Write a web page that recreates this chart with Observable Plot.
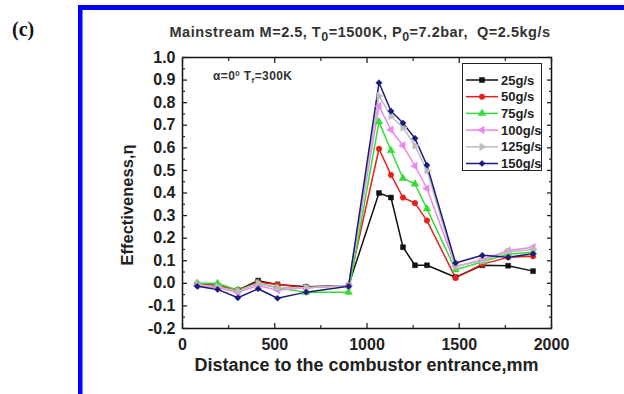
<!DOCTYPE html>
<html>
<head>
<meta charset="utf-8">
<script src="https://cdn.jsdelivr.net/npm/d3@7"></script>
<script src="https://cdn.jsdelivr.net/npm/@observablehq/plot@0.6"></script>
<style>
  html, body { margin: 0; padding: 0; background: #fff; }
  #wrap { position: relative; width: 624px; height: 394px; overflow: hidden; background: #fff; }
  #wrap svg { position: absolute; left: 0; top: 0; }
</style>
</head>
<body>
<div id="wrap"></div>
<script>
// ---- data ----
const distance = [80, 190, 300, 410, 515, 670, 900, 1065, 1130, 1195, 1260, 1325, 1480, 1625, 1765, 1900];
const seriesNames = ["25g/s", "50g/s", "75g/s", "100g/s", "125g/s", "150g/s"];
const eff25  = [-0.005, -0.01, -0.03, 0.012, -0.005, -0.015, -0.01, 0.40, 0.38, 0.16, 0.08, 0.08, 0.027, 0.08, 0.078, 0.054];
const eff50  = [-0.005, -0.01, -0.03, 0.005, -0.005, -0.02, -0.01, 0.596, 0.48, 0.38, 0.355, 0.278, 0.024, 0.085, 0.115, 0.12];
const eff75  = [0.0, 0.0, -0.03, 0.0, -0.02, -0.04, -0.04, 0.715, 0.588, 0.465, 0.44, 0.33, 0.06, 0.095, 0.13, 0.138];
const eff100 = [-0.01, -0.02, -0.04, -0.01, -0.03, -0.02, -0.01, 0.785, 0.68, 0.61, 0.52, 0.42, 0.075, 0.105, 0.145, 0.16];
const eff125 = [-0.005, -0.015, -0.035, 0.0, -0.02, -0.02, -0.01, 0.83, 0.74, 0.69, 0.61, 0.50, 0.075, 0.10, 0.14, 0.15];
const eff150 = [-0.013, -0.027, -0.064, -0.024, -0.066, -0.039, -0.013, 0.888, 0.763, 0.71, 0.642, 0.523, 0.09, 0.124, 0.116, 0.131];
const allValues = [eff25, eff50, eff75, eff100, eff125, eff150];

const yTickValues = [-0.2, -0.1, 0.0, 0.1, 0.2, 0.3, 0.4, 0.5, 0.6, 0.7, 0.8, 0.9, 1.0];
const yMinorValues = [-0.15, -0.05, 0.05, 0.15, 0.25, 0.35, 0.45, 0.55, 0.65, 0.75, 0.85, 0.95];
const xTickValues = [0, 500, 1000, 1500, 2000];
const xMinorValues = [250, 750, 1250, 1750];

const colors = ["#111111", "#e3221f", "#33dd33", "#ec86ec", "#bdbdbd", "#1b1b7c"];

// custom symbols
const triLeft = {draw(ctx, size) {
  const s = Math.sqrt(size * 4 / Math.sqrt(3)), h = s * Math.sqrt(3) / 2;
  ctx.moveTo(-2 * h / 3, 0); ctx.lineTo(h / 3, -s / 2); ctx.lineTo(h / 3, s / 2); ctx.closePath();
}};
const triRight = {draw(ctx, size) {
  const s = Math.sqrt(size * 4 / Math.sqrt(3)), h = s * Math.sqrt(3) / 2;
  ctx.moveTo(2 * h / 3, 0); ctx.lineTo(-h / 3, -s / 2); ctx.lineTo(-h / 3, s / 2); ctx.closePath();
}};
const symbolList = [d3.symbolSquare, d3.symbolCircle, d3.symbolTriangle, triLeft, triRight, d3.symbolDiamond2];

const data = seriesNames.flatMap((name, i) => distance.map((x, j) => ({series: name, x, y: allValues[i][j]})));

const fmt = d => d.toFixed(1);
const font = "'Liberation Sans', Arial, sans-serif";

const chart = Plot.plot({
  width: 624, height: 394,
  marginLeft: 182, marginRight: 73, marginTop: 57, marginBottom: 66,
  x: {domain: [0, 2000]},
  y: {domain: [-0.2, 1.0]},
  color: {domain: seriesNames, range: colors},
  symbol: {domain: seriesNames, range: symbolList},
  style: {fontFamily: font, fontWeight: "bold", color: "#222", background: "transparent", overflow: "visible"},
  marks: [
    Plot.line(data, {x: "x", y: "y", z: "series", stroke: "series", strokeWidth: 1.5}),
    Plot.dot(data, {x: "x", y: "y", symbol: "series", fill: "series", stroke: "series", strokeWidth: 0.5, r: 2.8}),
    Plot.frame({stroke: "#111", strokeWidth: 1.5}),
    // labels
    Plot.axisY(yTickValues, {anchor: "left", tickSize: 0, tickPadding: 7, tickFormat: fmt, fontSize: 16, fontWeight: "bold", label: null}),
    Plot.axisX(xTickValues, {anchor: "bottom", tickSize: 0, tickPadding: 10, tickFormat: d => String(d), fontSize: 16, fontWeight: "bold", label: null}),
    // inward ticks
    Plot.axisY(yTickValues, {anchor: "left", tickSize: 5, dx: 5, fill: "none", strokeWidth: 1.3, label: null}),
    Plot.axisY(yMinorValues, {anchor: "left", tickSize: 3, dx: 3, fill: "none", strokeWidth: 1.2, label: null}),
    Plot.axisY(yTickValues, {anchor: "right", tickSize: 5, dx: -5, fill: "none", strokeWidth: 1.3, label: null}),
    Plot.axisY(yMinorValues, {anchor: "right", tickSize: 3, dx: -3, fill: "none", strokeWidth: 1.2, label: null}),
    Plot.axisX(xTickValues, {anchor: "bottom", tickSize: 5, dy: -5, fill: "none", strokeWidth: 1.3, label: null}),
    Plot.axisX(xMinorValues, {anchor: "bottom", tickSize: 3, dy: -3, fill: "none", strokeWidth: 1.2, label: null}),
    Plot.axisX(xTickValues, {anchor: "top", tickSize: 5, dy: 5, fill: "none", strokeWidth: 1.3, label: null}),
    Plot.axisX(xMinorValues, {anchor: "top", tickSize: 3, dy: 3, fill: "none", strokeWidth: 1.2, label: null})
  ]
});

document.getElementById("wrap").appendChild(chart);

// ---- decorations, titles, legend ----
const svg = d3.select(chart);
const deco = svg.append("g").attr("font-family", font).attr("font-weight", "bold").attr("text-anchor", "start");

// blue frame
deco.append("rect").attr("x", 78).attr("y", 5).attr("width", 546).attr("height", 5).attr("fill", "#0000ff");
deco.append("rect").attr("x", 78).attr("y", 5).attr("width", 4.5).attr("height", 389).attr("fill", "#0000ff");

// panel tag
deco.append("text").attr("x", 12).attr("y", 36).attr("font-family", "'Liberation Serif', 'Times New Roman', serif")
  .attr("font-size", 20).attr("fill", "#111").text("(c)");

// title with subscripts
const title = deco.append("text").attr("x", 360).attr("y", 37).attr("text-anchor", "middle")
  .attr("font-size", 14.5).attr("letter-spacing", 0.5).attr("fill", "#333");
const titleParts = [["Mainstream M=2.5, T", 0], ["0", 1], ["=1500K, P", 0], ["0", 1], ["=7.2bar,\u00a0 Q=2.5kg/s", 0]];
titleParts.forEach(([t, sub], k) => {
  const ts = title.append("tspan").text(t);
  if (sub) ts.attr("dy", 4).attr("font-size", 12.5);
  else if (k > 0) ts.attr("dy", -4);
});

// annotation alpha / Tf
const ann = deco.append("text").attr("x", 213).attr("y", 80).attr("font-size", 12).attr("letter-spacing", 0.4).attr("fill", "#333");
ann.append("tspan").text("\u03b1=0");
ann.append("tspan").attr("dy", -4.5).attr("font-size", 8).text("0");
ann.append("tspan").attr("dy", 4.5).text(" T");
ann.append("tspan").attr("dy", 3).attr("font-size", 8).text("f");
ann.append("tspan").attr("dy", -3).text("=300K");

// axis titles
deco.append("text").attr("x", 366.5).attr("y", 371).attr("text-anchor", "middle")
  .attr("font-size", 18).attr("fill", "#222").text("Distance to the combustor entrance,mm");
deco.append("text").attr("transform", "translate(133,205) rotate(-90)").attr("text-anchor", "middle")
  .attr("font-size", 16.5).attr("fill", "#222").text("Effectiveness,\u03b7");

// legend
const lg = deco.append("g");
lg.append("rect").attr("x", 462.5).attr("y", 63.5).attr("width", 79).attr("height", 107)
  .attr("fill", "#fff").attr("stroke", "#222").attr("stroke-width", 1);
seriesNames.forEach((name, i) => {
  const yy = 80 + i * 16.7;
  lg.append("line").attr("x1", 466).attr("x2", 498).attr("y1", yy).attr("y2", yy)
    .attr("stroke", colors[i]).attr("stroke-width", 1.5);
  lg.append("path").attr("transform", `translate(482,${yy})`)
    .attr("d", d3.symbol(symbolList[i], Math.PI * 2.8 * 2.8)())
    .attr("fill", colors[i]).attr("stroke", colors[i]).attr("stroke-width", 0.5);
  lg.append("text").attr("x", 501).attr("y", yy + 4.6).attr("font-size", 13).attr("fill", "#222").text(name);
});
</script>
</body>
</html>
